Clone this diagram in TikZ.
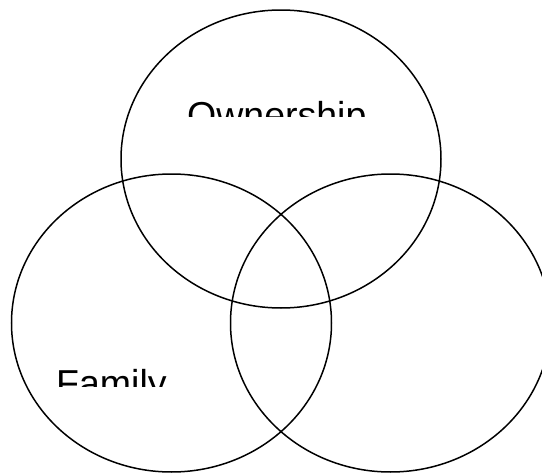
\documentclass[tikz,border=0pt]{standalone}
\usepackage{fontspec}
\setmainfont{Liberation Sans}
\usetikzlibrary{shapes.geometric}
\tikzset{
  setring/.style={ellipse, draw=black, line width=1.5pt, inner sep=0pt, minimum width=320pt, minimum height=298pt},
  setlabel/.style={inner sep=0pt, anchor=base west, font=\fontsize{37.5}{44}\selectfont}
}
\begin{document}
\begin{tikzpicture}[x=1pt,y=-1pt]
\useasboundingbox (0,0) rectangle (542,474);
\node[setring] (own) at (281,159) {};
\node[setring] (fam) at (171.5,323) {};
\node[setring] (biz) at (390.5,323) {};
\begin{scope}
  \clip (150,60) rectangle (420,116);
  \node[setlabel] (ownlabel) at (187,128) {Ownership};
\end{scope}
\begin{scope}
  \clip (30,330) rectangle (220,386);
  \node[setlabel] (famlabel) at (56,396) {Family};
\end{scope}
\end{tikzpicture}
\end{document}
